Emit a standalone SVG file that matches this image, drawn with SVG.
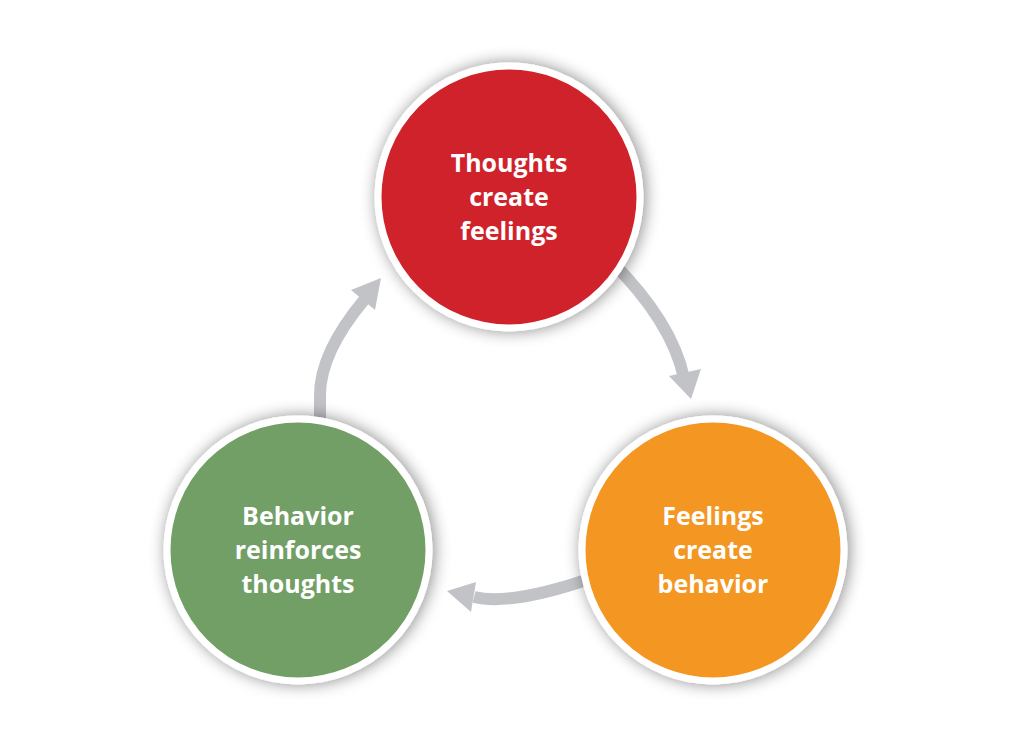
<svg xmlns="http://www.w3.org/2000/svg" width="1017" height="733" viewBox="0 0 1017 733">
  <defs>
    <filter id="shadow" x="-30%" y="-30%" width="160%" height="160%">
      <feDropShadow dx="2" dy="0" stdDeviation="8" flood-color="#000" flood-opacity="0.45"/>
    </filter>
    <style>
      .ring { stroke: #ffffff; stroke-width: 7; filter: url(#shadow); }
      .lbl { font-family: "Open Sans", "Liberation Sans", sans-serif; font-weight: bold; font-size: 25px; fill: #ffffff; text-anchor: middle; }
      .shaft { fill: none; stroke: #c2c3c7; stroke-width: 12; }
      .head { fill: #c2c3c7; }
    </style>
  </defs>
  <rect width="1017" height="733" fill="#ffffff"/>
  <g id="connectors">
    <path class="shaft" d="M612,262 Q672,322 684,378"/>
    <polygon class="head" points="669,376 701,369 691,399"/>
    <path class="shaft" d="M592,578 Q511,606 474,597"/>
    <polygon class="head" points="476,582 471,612 447,591"/>
    <path class="shaft" d="M320,430 L320,395 Q320,353 364,300"/>
    <polygon class="head" points="351,290 375,310 381,278"/>
  </g>
  <g id="node-thoughts">
    <circle class="ring" cx="509" cy="197" r="131" fill="#d0222b"/>
    <text class="lbl" x="509" y="172">Thoughts</text>
    <text class="lbl" x="509" y="206">create</text>
    <text class="lbl" x="509" y="240">feelings</text>
  </g>
  <g id="node-feelings">
    <circle class="ring" cx="713" cy="550" r="131" fill="#f39621"/>
    <text class="lbl" x="713" y="525">Feelings</text>
    <text class="lbl" x="713" y="559">create</text>
    <text class="lbl" x="713" y="593">behavior</text>
  </g>
  <g id="node-behavior">
    <circle class="ring" cx="298" cy="550" r="131" fill="#719f66"/>
    <text class="lbl" x="298" y="525">Behavior</text>
    <text class="lbl" x="298" y="559">reinforces</text>
    <text class="lbl" x="298" y="593">thoughts</text>
  </g>
</svg>
